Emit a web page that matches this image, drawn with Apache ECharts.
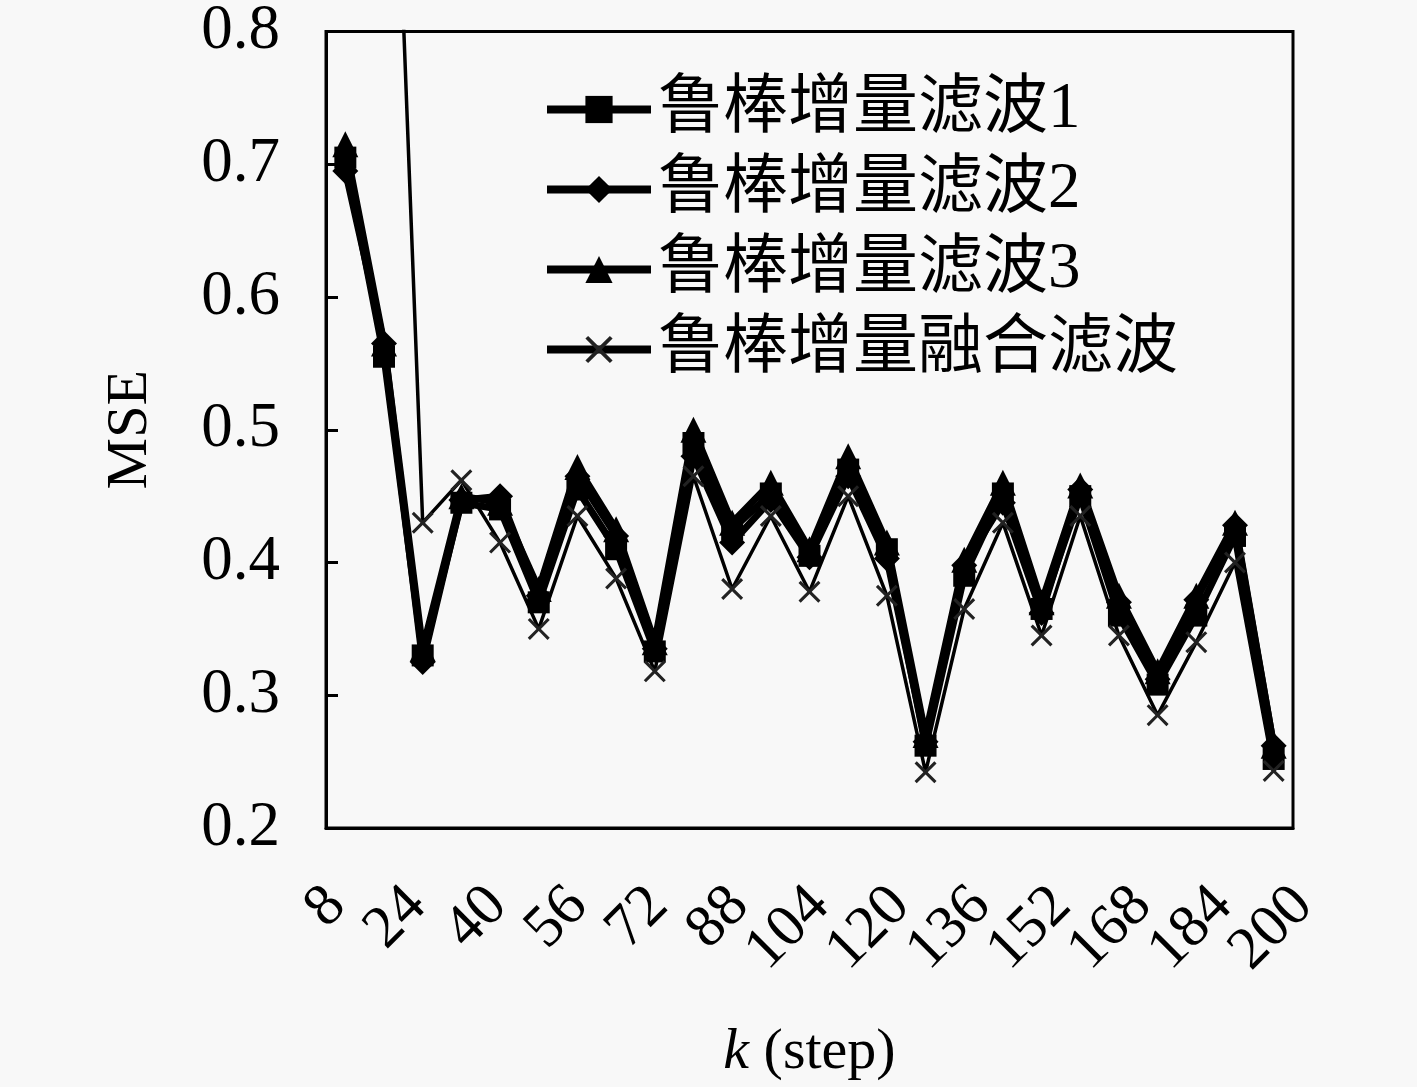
<!DOCTYPE html>
<html>
<head>
<meta charset="utf-8">
<script src="https://cdn.jsdelivr.net/npm/echarts@6/dist/echarts.min.js"></script>
<style>
  html, body { margin: 0; padding: 0; background: #f8f8f8; }
  #chart { width: 1417px; height: 1087px; }
</style>
</head>
<body>
<div id="chart"></div>
<script>
// time step k
var steps = [8, 16, 24, 32, 40, 48, 56, 64, 72, 80, 88, 96, 104,
             112, 120, 128, 136, 144, 152, 160, 168, 176, 184, 192, 200];
// labelled steps on the x axis
var xTickLabels = [8, 24, 40, 56, 72, 88, 104, 120, 136, 152, 168, 184, 200];

// MSE values
var filter1 = [0.705, 0.555, 0.330, 0.445, 0.440, 0.370, 0.455, 0.410, 0.333, 0.490, 0.425, 0.452, 0.405,
               0.470, 0.410, 0.262, 0.390, 0.452, 0.365, 0.450, 0.360, 0.308, 0.360, 0.420, 0.252];
var filter2 = [0.695, 0.565, 0.325, 0.447, 0.450, 0.375, 0.465, 0.420, 0.335, 0.480, 0.415, 0.447, 0.404,
               0.465, 0.403, 0.265, 0.398, 0.445, 0.362, 0.455, 0.370, 0.312, 0.372, 0.428, 0.262];
var filter3 = [0.715, 0.565, 0.335, 0.450, 0.445, 0.380, 0.472, 0.425, 0.340, 0.500, 0.430, 0.460, 0.410,
               0.480, 0.415, 0.270, 0.402, 0.460, 0.370, 0.458, 0.375, 0.318, 0.375, 0.430, 0.262];
// fusion filter starts far above the plotted range (clipped)
var fusion  = [1.450, 1.190, 0.430, 0.462, 0.415, 0.350, 0.435, 0.388, 0.318, 0.465, 0.380, 0.435, 0.378,
               0.450, 0.375, 0.242, 0.365, 0.430, 0.345, 0.435, 0.345, 0.285, 0.340, 0.400, 0.243];

var names = ['鲁棒增量滤波1', '鲁棒增量滤波2', '鲁棒增量滤波3', '鲁棒增量融合滤波'];

var serif = "'Liberation Serif', 'DejaVu Serif', serif";
var cjk = "'Liberation Serif', 'Noto Sans CJK SC', serif";
var crossPath = 'path://M2,0 L10,8 L18,0 L20,2 L12,10 L20,18 L18,20 L10,12 L2,20 L0,18 L8,10 L0,2 Z';

function thickLine(name, data, symbol, size) {
    return {
        name: name,
        type: 'line',
        data: data,
        symbol: symbol,
        symbolSize: size,
        showAllSymbol: true,
        clip: true,
        lineStyle: { color: '#000', width: 7 },
        itemStyle: { color: '#000' }
    };
}

var chart = echarts.init(document.getElementById('chart'));

chart.setOption({
    backgroundColor: '#f8f8f8',
    animation: false,
    grid: {
        left: 326, right: 124, top: 28, bottom: 255,
        show: true,
        borderColor: '#000',
        borderWidth: 3,
        backgroundColor: 'transparent'
    },
    legend: {
        left: 538,
        top: 72,
        orient: 'vertical',
        itemWidth: 104,
        itemHeight: 34,
        itemGap: 15,
        lineStyle: { width: 8 },
        textStyle: { fontFamily: cjk, fontSize: 65, color: '#000', padding: [0, 0, 0, 2] },
        data: names
    },
    xAxis: [{
        // data axis
        type: 'category',
        data: steps,
        boundaryGap: true,
        name: '{i|k} (step)',
        nameLocation: 'middle',
        nameGap: 196,
        nameTextStyle: {
            fontFamily: serif, fontSize: 58, color: '#000',
            rich: { i: { fontFamily: serif, fontSize: 58, fontStyle: 'italic', color: '#000' } }
        },
        axisLine: { lineStyle: { color: '#000', width: 3 } },
        axisTick: { show: false },
        axisLabel: { show: false, interval: 0 },
        splitLine: { show: false }
    }, {
        // tick label axis (labels sit slightly off the data points in the original)
        type: 'category',
        position: 'bottom',
        data: xTickLabels,
        boundaryGap: false,
        axisLine: { show: false },
        axisTick: { show: false },
        axisLabel: {
            interval: 0,
            rotate: 45,
            margin: 58,
            verticalAlign: 'top',
            lineHeight: 30,
            fontFamily: serif,
            fontSize: 60,
            color: '#000'
        },
        splitLine: { show: false }
    }],
    yAxis: {
        type: 'value',
        min: 0.2,
        max: 0.8,
        interval: 0.1,
        name: 'MSE',
        nameLocation: 'middle',
        nameGap: 166,
        nameRotate: 90,
        nameTextStyle: { fontFamily: serif, fontSize: 58, color: '#000' },
        axisLine: { show: true, lineStyle: { color: '#000', width: 3 } },
        axisTick: { show: true, inside: true, length: 12, lineStyle: { color: '#000', width: 3 } },
        axisLabel: {
            margin: 46,
            fontFamily: serif,
            fontSize: 63,
            color: '#000',
            formatter: function (v) { return v.toFixed(1); }
        },
        splitLine: { show: false }
    },
    series: [
        thickLine(names[0], filter1, 'rect', 22),
        thickLine(names[1], filter2, 'diamond', 26),
        thickLine(names[2], filter3, 'triangle', 26),
        {
            name: names[3],
            type: 'line',
            data: fusion,
            symbol: crossPath,
            symbolSize: 22,
            showAllSymbol: true,
            clip: true,
            lineStyle: { color: '#000', width: 3.5 },
            itemStyle: { color: '#222' }
        }
    ]
});
</script>
</body>
</html>
